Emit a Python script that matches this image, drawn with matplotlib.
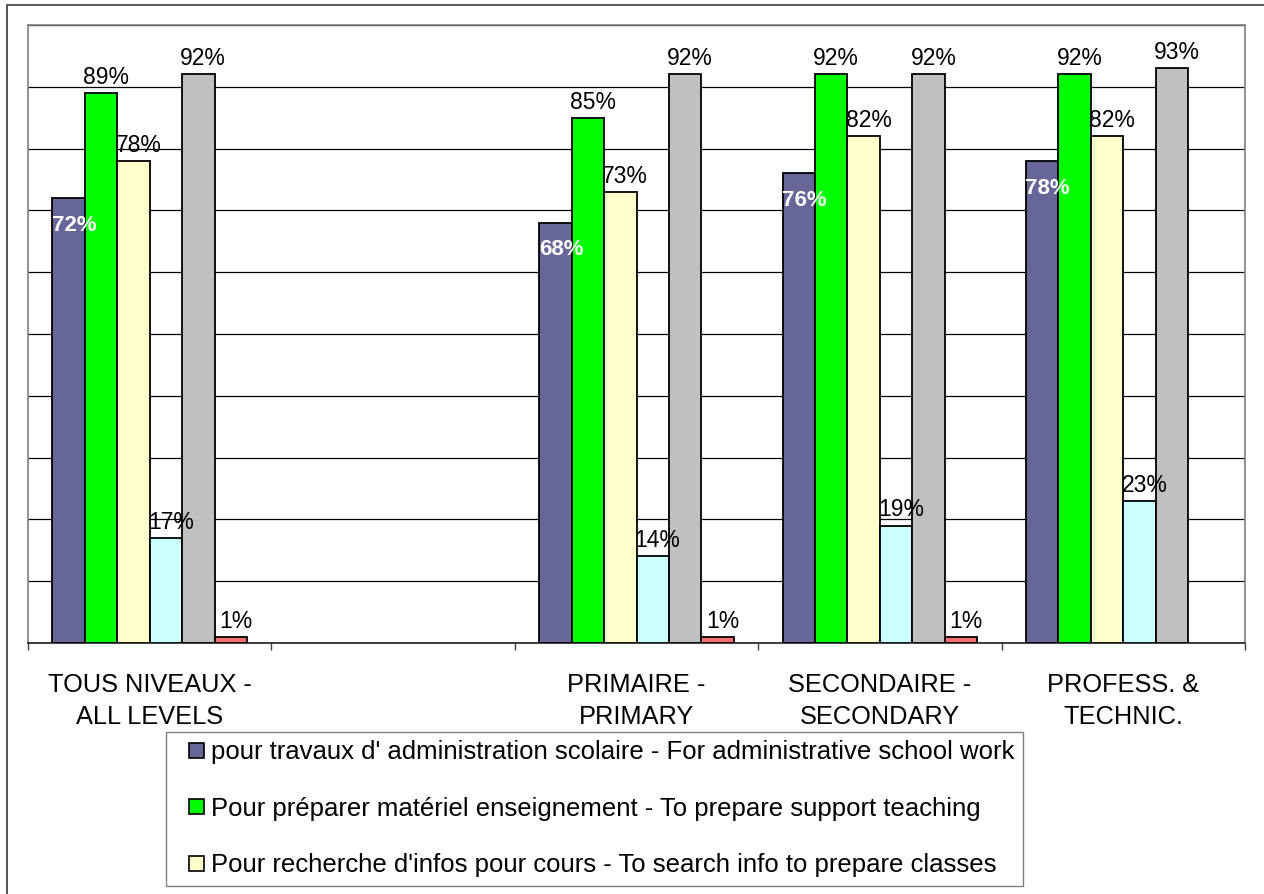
import matplotlib
matplotlib.use("Agg")
import matplotlib.pyplot as plt
import numpy as np
from matplotlib.patches import Rectangle, Patch
from matplotlib.legend_handler import HandlerPatch
from matplotlib.transforms import offset_copy

plt.rcParams['font.family'] = ['Liberation Sans', 'DejaVu Sans']

# Category labels (the second slot is an empty category)
categories = ["TOUS NIVEAUX -\nALL LEVELS", "", "PRIMAIRE -\nPRIMARY",
              "SECONDAIRE -\nSECONDARY", "PROFESS. &\nTECHNIC."]

# Percentages per series, one value per category (None = no bar)
admin_work = [72, None, 68, 76, 78]
prepare_material = [89, None, 85, 92, 92]
search_info = [78, None, 73, 82, 82]
series_cyan = [17, None, 14, 19, 23]
series_gray = [92, None, 92, 92, 93]
series_red = [1, None, 1, 1, None]

series = [admin_work, prepare_material, search_info, series_cyan, series_gray, series_red]
colors = ["#666699", "#00FF00", "#FFFFCC", "#CCFFFF", "#C0C0C0", "#FF6F6F"]
legend_labels = [
    "pour travaux d' administration scolaire - For administrative school work",
    "Pour préparer matériel enseignement - To prepare support teaching",
    "Pour recherche d'infos pour cours - To search info to prepare classes",
]

W, H = 1264, 894
fig = plt.figure(figsize=(W / 100, H / 100), dpi=100)

# outer chart frame (runs off the right and bottom edges)
fig.patches.append(Rectangle((7 / W, -0.05), 1.2, 1 - 5 / H + 0.05,
                             transform=fig.transFigure, fill=False,
                             edgecolor="#3a3a3a", linewidth=1.2))

ax = fig.add_axes([28 / W, 1 - 643 / H, (1245 - 28) / W, (643 - 25) / H])

n = len(series)
width = 1 / 7.5
x = np.arange(len(categories))

for i, (vals, col) in enumerate(zip(series, colors)):
    offs = (i - (n - 1) / 2) * width
    xs = [xi + offs for xi, v in zip(x, vals) if v is not None]
    ys = [v for v in vals if v is not None]
    ax.bar(xs, ys, width=width, color=col, edgecolor="black", linewidth=1.3, zorder=3)
    for xx, yy in zip(xs, ys):
        if i == 0:
            tr = offset_copy(ax.transData, fig=fig, x=4, y=-12, units="points")
            ax.text(xx, yy, f"{yy}%", transform=tr, ha="center", va="top",
                    color="white", fontweight="bold", fontsize=16, zorder=5)
        else:
            tr = offset_copy(ax.transData, fig=fig, x=3.5, y=3, units="points")
            ax.text(xx, yy, f"{yy}%", transform=tr, ha="center", va="bottom",
                    color="black", fontsize=16.5, zorder=5)

ax.set_xlim(-0.5, len(categories) - 0.5)
ax.set_ylim(0, 100)
ax.set_yticks(np.arange(0, 101, 10))
ax.yaxis.grid(True, color="black", linewidth=0.9, zorder=0)
ax.set_axisbelow(True)
ax.tick_params(axis="y", length=0, labelleft=False)

ax.set_xticks(np.arange(-0.5, len(categories), 1.0))
ax.set_xticklabels([])
ax.tick_params(axis="x", length=5, width=1, color="#404040", direction="out")

for side in ("left", "top", "right"):
    ax.spines[side].set_color("#808080")
    ax.spines[side].set_linewidth(1.2)
ax.spines["bottom"].set_color("#202020")
ax.spines["bottom"].set_linewidth(1.2)

label_tr = offset_copy(ax.get_xaxis_transform(), fig=fig, x=0, y=-21.5, units="points")
for xi, lab in zip(x, categories):
    if lab:
        ax.text(xi, 0, lab, transform=label_tr, ha="center", va="top",
                fontsize=18.3, linespacing=1.45, multialignment="center")


def small_square(legend, orig_handle, xdescent, ydescent, width, height, fontsize):
    # square key sitting at the right end of the handle box
    s = 0.58 * fontsize
    return Rectangle((width - s - xdescent, (height - s) / 2 - ydescent), s, s)


handles = [Patch(facecolor=c, edgecolor="black", linewidth=1.2) for c in colors[:3]]
leg = fig.legend(handles, legend_labels, loc="upper left",
                 bbox_to_anchor=(166 / W, 1 - 732 / H), bbox_transform=fig.transFigure,
                 fontsize=18.5, frameon=True, fancybox=False, shadow=False,
                 edgecolor="#808080", framealpha=1, borderpad=0.32,
                 labelspacing=1.27, handlelength=1.15, handleheight=0.7,
                 handletextpad=0.3, borderaxespad=0,
                 handler_map={Patch: HandlerPatch(patch_func=small_square)})
leg.get_frame().set_linewidth(1.0)

fig.savefig("out.png", dpi=100)
